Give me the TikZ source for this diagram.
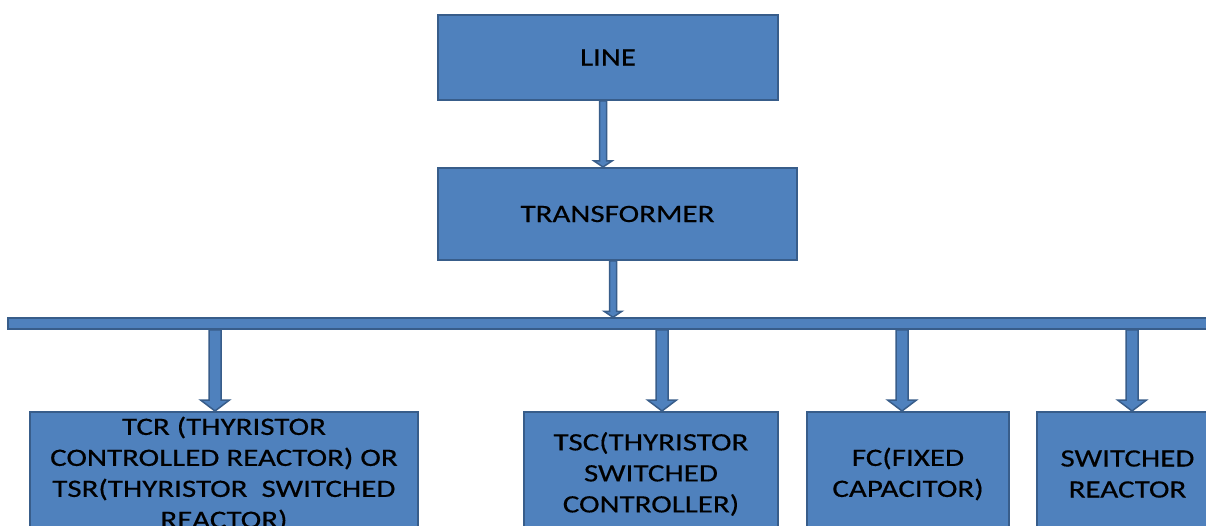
\documentclass[tikz,border=0pt]{standalone}
\usepackage{fontspec}
\setmainfont{Carlito}[FakeStretch=1.24,FakeBold=0.4]
\usetikzlibrary{calc}
\definecolor{boxfill}{HTML}{4F81BD}
\definecolor{boxline}{HTML}{385D8A}
% #1 dx, #2 shaft half width, #3 head half width, #4 head length, #5 start node anchor, #6 end node anchor
\newcommand\vblockarrow[6]{%
  \draw[arrowbody] let \p1=(#5), \p2=(#6) in
    ({\x2+(#1pt)-#2pt},\y1) -- ({\x2+(#1pt)-#2pt},{\y2+#4pt}) --
    ({\x2+(#1pt)-#3pt},{\y2+#4pt}) -- ({\x2+(#1pt)},\y2) --
    ({\x2+(#1pt)+#3pt},{\y2+#4pt}) -- ({\x2+(#1pt)+#2pt},{\y2+#4pt}) --
    ({\x2+(#1pt)+#2pt},\y1) -- cycle;}
\tikzset{
  box/.style={draw=boxline, line width=2pt, fill=boxfill, inner sep=0pt,
    align=center, font=\fontsize{25}{31}\selectfont, text=black},
  arrowbody/.style={draw=boxline, line width=1.5pt, fill=boxfill, line join=miter}
}
\begin{document}
\begin{tikzpicture}[x=1pt,y=-1pt]
\useasboundingbox (0,0) rectangle (1206,526);
\clip (0,0) rectangle (1206,526);
\fill[white] (0,0) rectangle (1206,526);
\node[box, minimum width=340pt, minimum height=85pt] (line) at (608,57.5) {LINE};
\node[box, minimum width=359pt, minimum height=92pt] (trans) at (617.5,214) {TRANSFORMER};
\node[box, line width=1.5pt, minimum width=1210pt, minimum height=11pt] (bus) at (613,323.5) {};
\node[box, minimum width=388pt, minimum height=124pt] (tcr) at (224,474) {TCR (THYRISTOR\\CONTROLLED REACTOR) OR\\TSR(THYRISTOR\ \ SWITCHED\\REACTOR)};
\node[box, minimum width=254pt, minimum height=124pt] (tsc) at (651,474) {TSC(THYRISTOR\\SWITCHED\\CONTROLLER)};
\node[box, minimum width=202pt, minimum height=124pt] (fc) at (908,474) {FC(FIXED\\CAPACITOR)};
\node[box, minimum width=181pt, minimum height=124pt] (sr) at (1127.5,474) {SWITCHED\\REACTOR};
\vblockarrow{-14.5}{3.5}{9}{6}{line.south}{trans.north}
\vblockarrow{0}{3.5}{9}{6}{trans.south}{bus.north}
\vblockarrow{-9}{6}{14.5}{11}{bus.south}{tcr.north}
\vblockarrow{11}{6}{14.5}{11}{bus.south}{tsc.north}
\vblockarrow{-6}{6}{14.5}{11}{bus.south}{fc.north}
\vblockarrow{4.5}{6}{14.5}{11}{bus.south}{sr.north}
\end{tikzpicture}
\end{document}
